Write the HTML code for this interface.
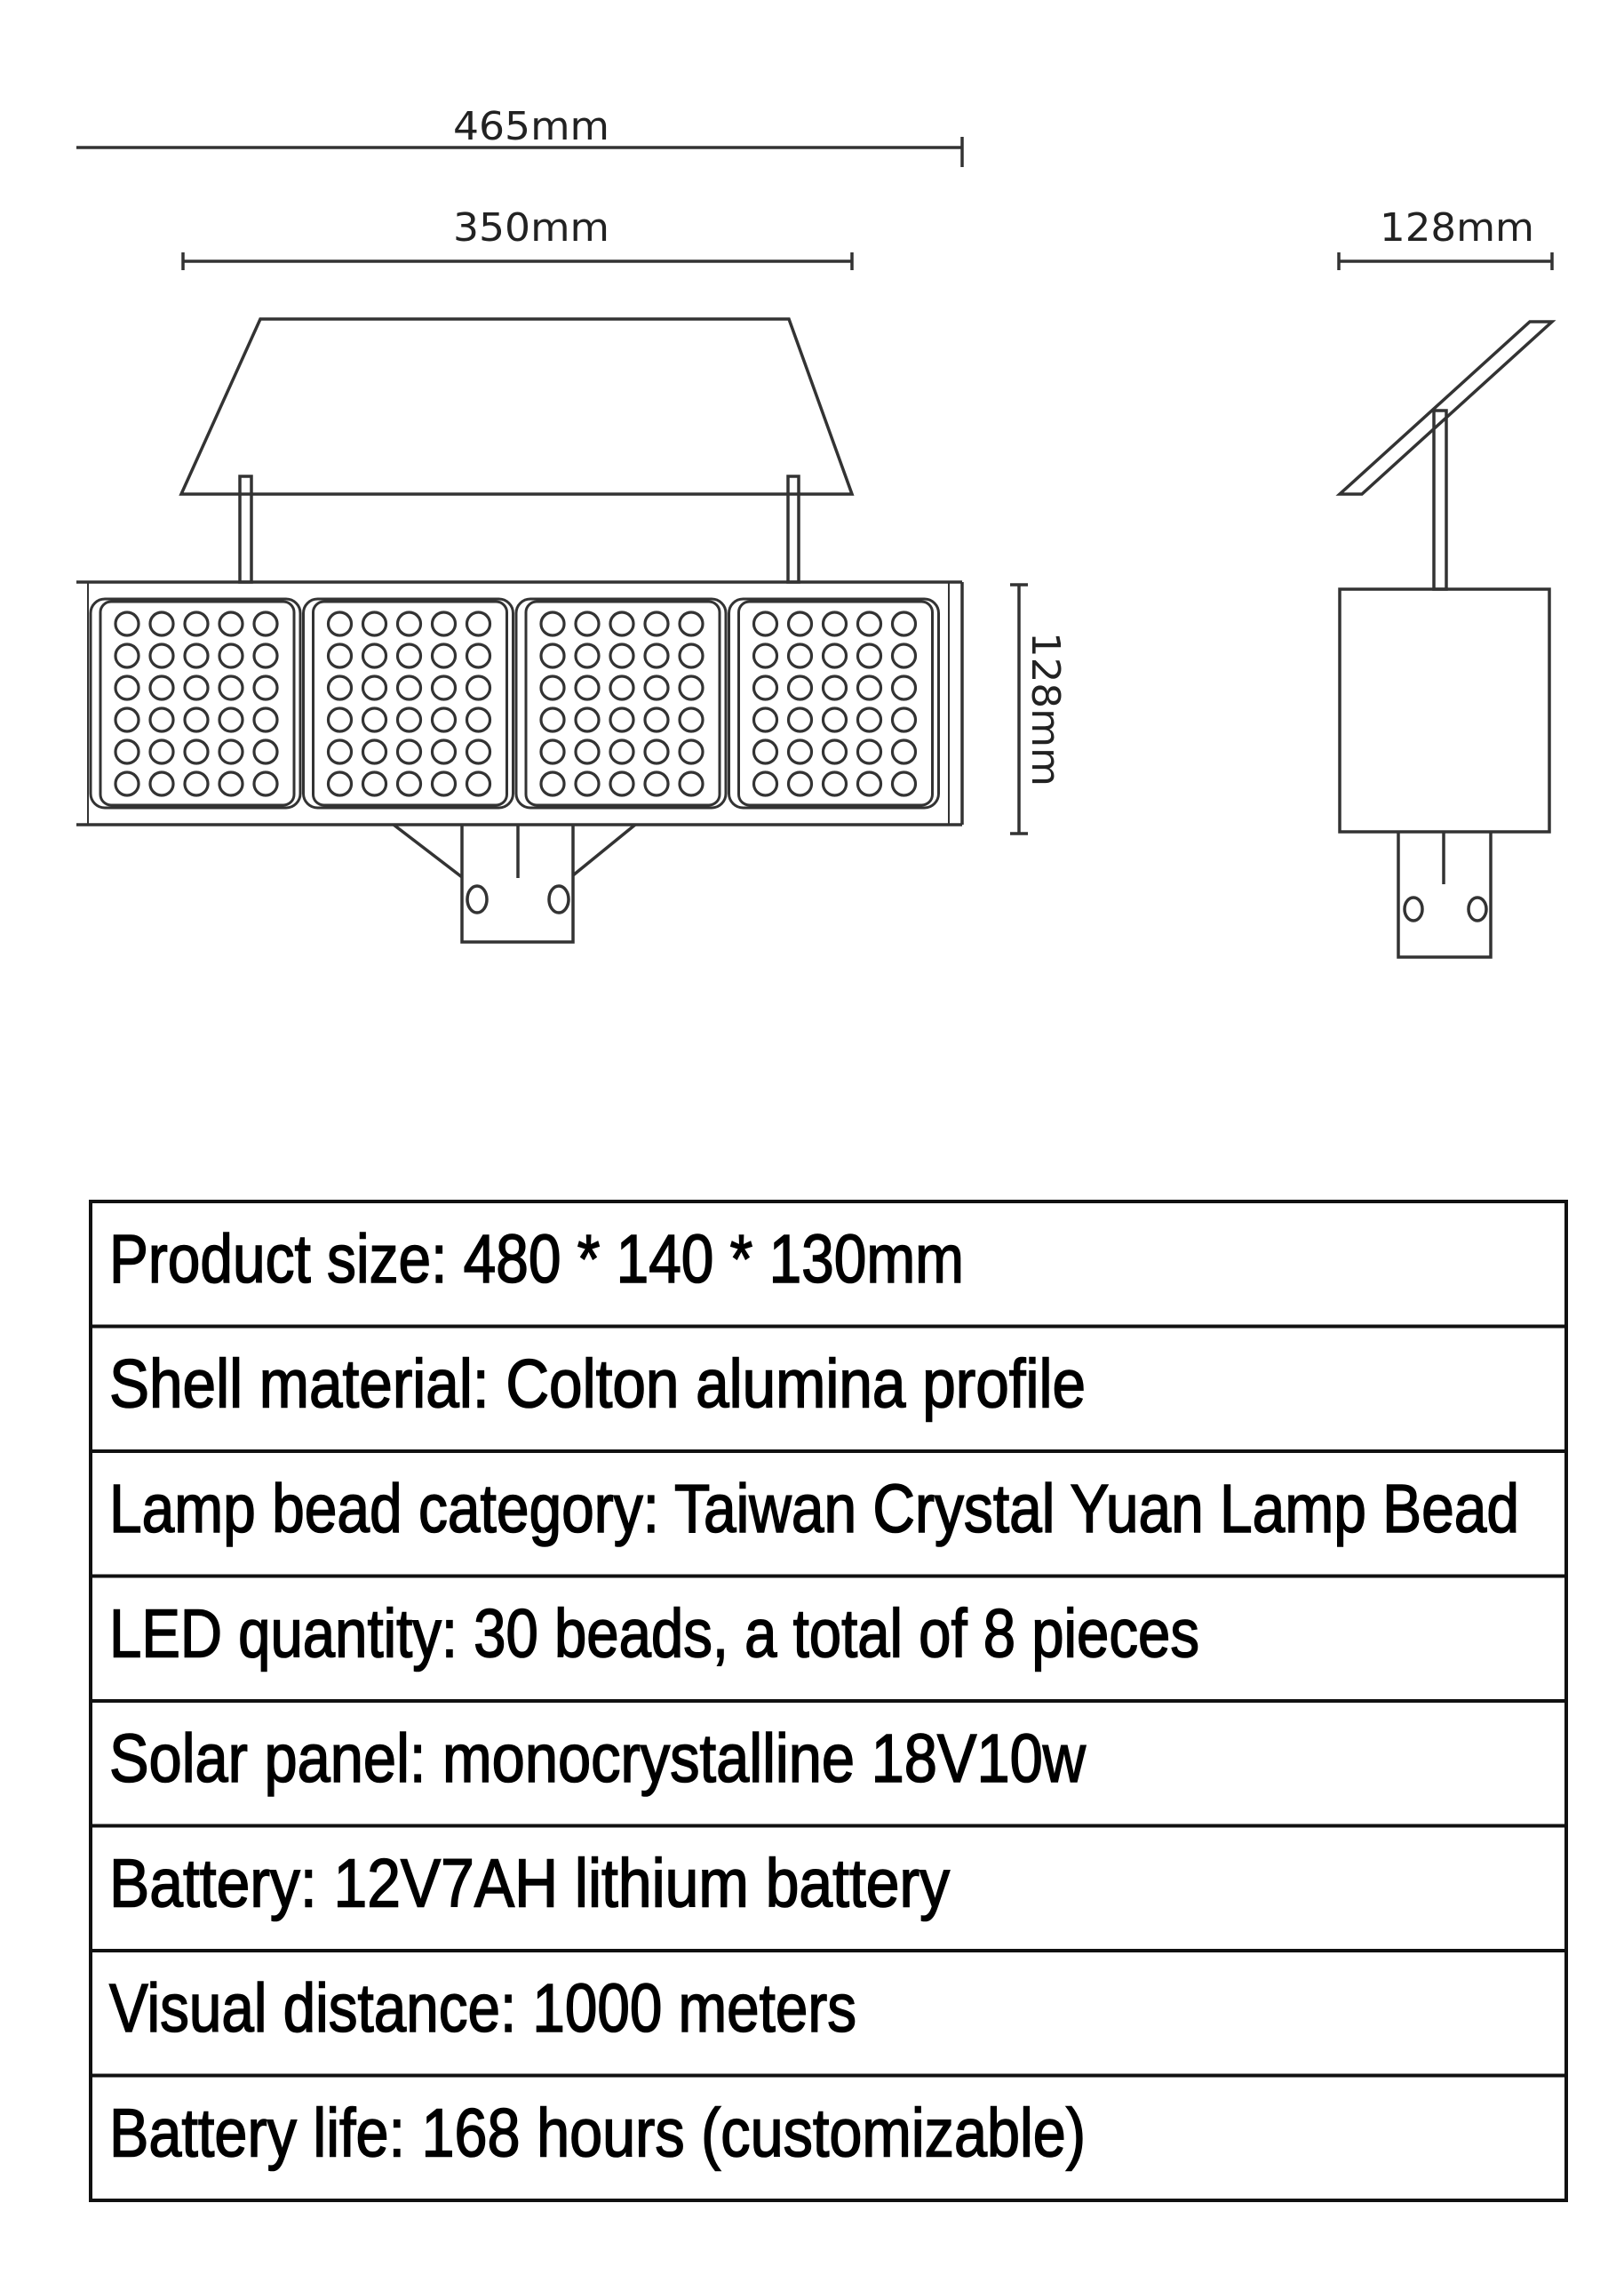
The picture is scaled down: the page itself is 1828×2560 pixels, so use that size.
<!DOCTYPE html>
<html><head><meta charset="utf-8"><style>html,body{margin:0;padding:0;background:#fff}svg{display:block}</style></head>
<body>
<svg width="1828" height="2560" viewBox="0 0 1828 2560" xmlns="http://www.w3.org/2000/svg">
<g fill="none" stroke="#333" stroke-width="3.5">
<line x1="86" y1="166" x2="1083" y2="166"/><line x1="1083" y1="154" x2="1083" y2="188"/>
<line x1="206" y1="294" x2="959" y2="294"/><line x1="206" y1="284" x2="206" y2="304"/><line x1="959" y1="284" x2="959" y2="304"/>
<line x1="1507" y1="294" x2="1747" y2="294"/><line x1="1507" y1="284" x2="1507" y2="304"/><line x1="1747" y1="284" x2="1747" y2="304"/>
<line x1="1147" y1="658" x2="1147" y2="938"/><line x1="1137" y1="658" x2="1157" y2="658"/><line x1="1137" y1="938" x2="1157" y2="938"/>
<polygon points="293,359 888,359 959,556 204,556"/>
<rect x="270" y="536" width="13" height="119"/><rect x="887" y="536" width="12" height="119"/>
<line x1="86" y1="655" x2="1083" y2="655"/><line x1="86" y1="928" x2="1083" y2="928"/>
<line x1="1083" y1="655" x2="1083" y2="928"/>
<line x1="99" y1="655" x2="99" y2="928" stroke-width="2"/><line x1="1068" y1="655" x2="1068" y2="928" stroke-width="2"/>
</g>
<g fill="none" stroke="#333" stroke-width="3">
<g id="m">
<rect x="102" y="674" width="236" height="235" rx="16"/>
<rect x="113" y="677" width="218" height="229" rx="12"/>
<g stroke-width="3.2">
<circle cx="143" cy="702" r="13"/><circle cx="182" cy="702" r="13"/><circle cx="221" cy="702" r="13"/><circle cx="260" cy="702" r="13"/><circle cx="299" cy="702" r="13"/>
<circle cx="143" cy="738" r="13"/><circle cx="182" cy="738" r="13"/><circle cx="221" cy="738" r="13"/><circle cx="260" cy="738" r="13"/><circle cx="299" cy="738" r="13"/>
<circle cx="143" cy="774" r="13"/><circle cx="182" cy="774" r="13"/><circle cx="221" cy="774" r="13"/><circle cx="260" cy="774" r="13"/><circle cx="299" cy="774" r="13"/>
<circle cx="143" cy="810" r="13"/><circle cx="182" cy="810" r="13"/><circle cx="221" cy="810" r="13"/><circle cx="260" cy="810" r="13"/><circle cx="299" cy="810" r="13"/>
<circle cx="143" cy="846" r="13"/><circle cx="182" cy="846" r="13"/><circle cx="221" cy="846" r="13"/><circle cx="260" cy="846" r="13"/><circle cx="299" cy="846" r="13"/>
<circle cx="143" cy="882" r="13"/><circle cx="182" cy="882" r="13"/><circle cx="221" cy="882" r="13"/><circle cx="260" cy="882" r="13"/><circle cx="299" cy="882" r="13"/>
</g></g>
<use href="#m" x="239.5"/><use href="#m" x="479"/><use href="#m" x="718.5"/>
</g>
<g fill="none" stroke="#333" stroke-width="3.5">
<line x1="443" y1="928" x2="520" y2="987"/><line x1="715" y1="928" x2="645" y2="985"/>
<polyline points="520,928 520,1060 645,1060 645,928"/>
<line x1="583" y1="928" x2="583" y2="988"/>
<ellipse cx="537" cy="1012" rx="11" ry="15"/><ellipse cx="629" cy="1012" rx="11" ry="15"/>
<polygon points="1508,556 1533,556 1747,362 1722,362"/>
<rect x="1614" y="462" width="14" height="201"/>
<rect x="1508" y="663" width="236" height="273"/>
<polyline points="1574,936 1574,1077 1678,1077 1678,936"/>
<line x1="1625" y1="936" x2="1625" y2="995"/>
<ellipse cx="1591" cy="1023" rx="10" ry="13"/><ellipse cx="1663" cy="1023" rx="10" ry="13"/>
</g>
<g font-family="'DejaVu Sans','Liberation Sans',sans-serif" font-size="44" fill="#222">
<text x="510" y="157" textLength="176" lengthAdjust="spacingAndGlyphs">465mm</text>
<text x="510" y="271" textLength="176" lengthAdjust="spacingAndGlyphs">350mm</text>
<text x="1553" y="271" textLength="174" lengthAdjust="spacingAndGlyphs">128mm</text>
<text transform="translate(1162,711) rotate(90)" textLength="174" lengthAdjust="spacingAndGlyphs">128mm</text>
</g>
<g fill="none" stroke="#111" stroke-width="4">
<rect x="102" y="1352" width="1661" height="1124"/>
<line x1="102" y1="1492.5" x2="1763" y2="1492.5"/><line x1="102" y1="1633" x2="1763" y2="1633"/>
<line x1="102" y1="1773.5" x2="1763" y2="1773.5"/><line x1="102" y1="1914" x2="1763" y2="1914"/>
<line x1="102" y1="2054.5" x2="1763" y2="2054.5"/><line x1="102" y1="2195" x2="1763" y2="2195"/>
<line x1="102" y1="2335.5" x2="1763" y2="2335.5"/>
</g>
<g font-family="'Liberation Sans',sans-serif" font-size="77" fill="#000" stroke="#000" stroke-width="1.6">
<text x="123" y="1443" textLength="962" lengthAdjust="spacingAndGlyphs">Product size: 480 * 140 * 130mm</text>
<text x="123" y="1583.5" textLength="1099" lengthAdjust="spacingAndGlyphs">Shell material: Colton alumina profile</text>
<text x="123" y="1724" textLength="1587" lengthAdjust="spacingAndGlyphs">Lamp bead category: Taiwan Crystal Yuan Lamp Bead</text>
<text x="123" y="1864.5" textLength="1227" lengthAdjust="spacingAndGlyphs">LED quantity: 30 beads, a total of 8 pieces</text>
<text x="123" y="2005" textLength="1099" lengthAdjust="spacingAndGlyphs">Solar panel: monocrystalline 18V10w</text>
<text x="123" y="2145.5" textLength="946" lengthAdjust="spacingAndGlyphs">Battery: 12V7AH lithium battery</text>
<text x="123" y="2286" textLength="841" lengthAdjust="spacingAndGlyphs">Visual distance: 1000 meters</text>
<text x="123" y="2426.5" textLength="1099" lengthAdjust="spacingAndGlyphs">Battery life: 168 hours (customizable)</text>
</g>
</svg>
</body></html>
